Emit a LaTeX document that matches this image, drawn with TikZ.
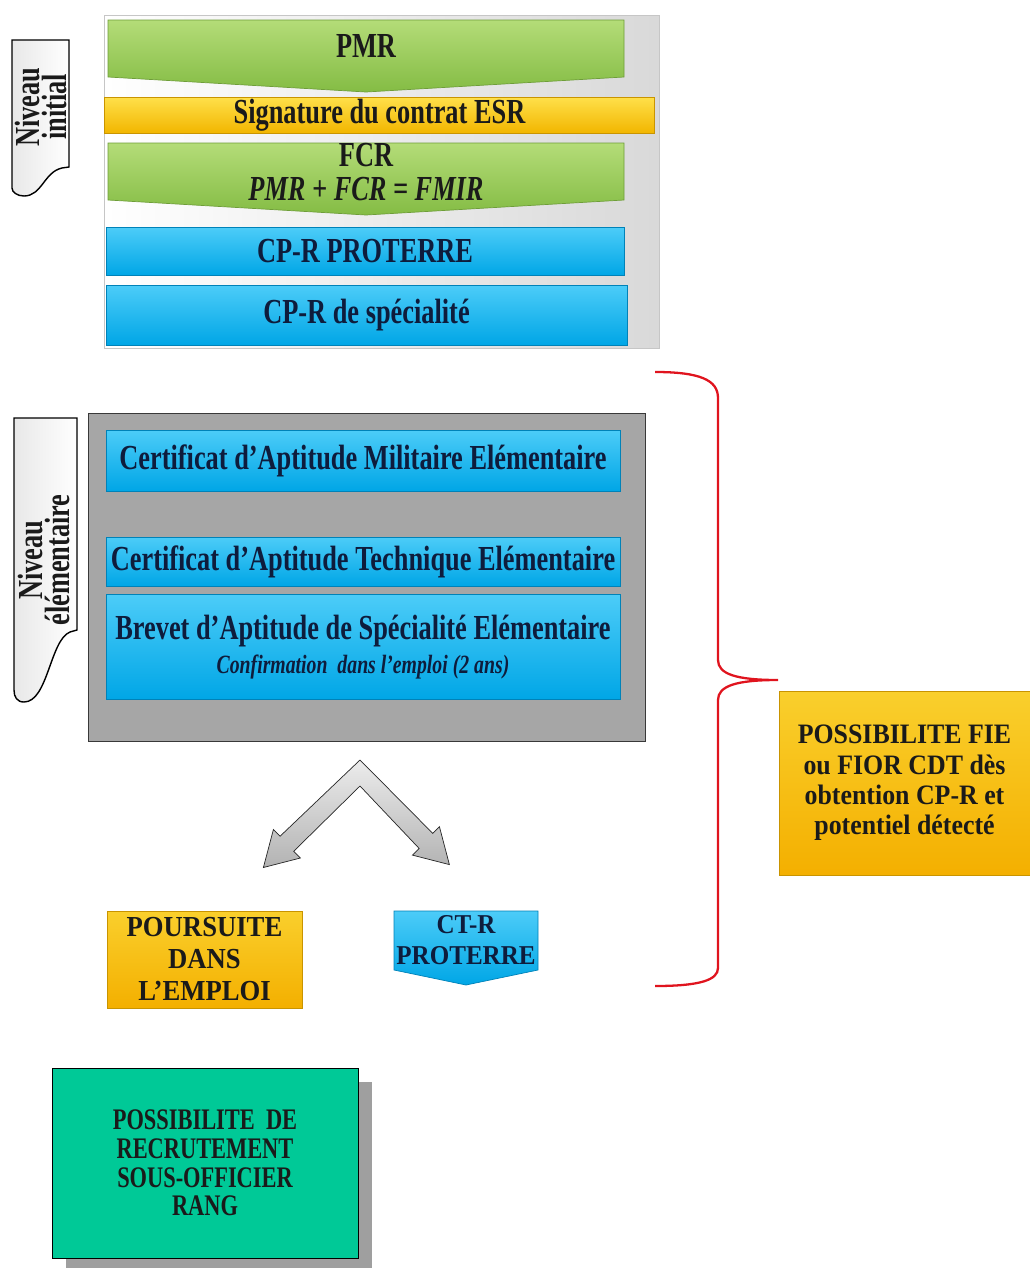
\documentclass[tikz,border=0pt]{standalone}
\usepackage{fontspec}
\setmainfont{Liberation Serif}
\newfontfamily\condfont[FakeStretch=0.75]{Liberation Serif}
\newfontfamily\wideCond[FakeStretch=0.92]{Liberation Serif}
\usepackage{tikz}
\usetikzlibrary{shapes,arrows.meta,positioning,shadows,calc}
\definecolor{greenTop}{HTML}{B4DC78}
\definecolor{greenBot}{HTML}{84BC44}
\definecolor{greenDark}{HTML}{6E9E38}
\definecolor{goldTop}{HTML}{FFE04A}
\definecolor{goldBot}{HTML}{F2B600}
\definecolor{goldDark}{HTML}{C99400}
\definecolor{blueTop}{HTML}{4CCCF8}
\definecolor{blueBot}{HTML}{00A6E6}
\definecolor{blueDark}{HTML}{0082B8}
\definecolor{panelGray}{HTML}{A6A6A6}
\definecolor{tealBox}{HTML}{00C997}
\definecolor{braceRed}{HTML}{E0141E}
\definecolor{inkNavy}{HTML}{0E1C3C}
\definecolor{inkDark}{HTML}{1A1A1A}
\newcommand{\bigLbl}{\condfont\bfseries\fontsize{20}{22}\selectfont}

\begin{document}
\begin{tikzpicture}[x=0.02cm, y=-0.02cm,
      panelTop/.style={rectangle, draw=gray!45, left color=white, right color=gray!30, minimum width=11.1cm, minimum height=6.66cm},
      panelMid/.style={rectangle, draw=gray!45!black, fill=panelGray, minimum width=11.14cm, minimum height=6.56cm},
      chevGreen/.style={draw=greenDark, top color=greenTop, bottom color=greenBot},
      chevBlue/.style={draw=blueDark, top color=blueTop, bottom color=blueBot},
      lbl/.style={inner sep=0pt, align=center, font=\bigLbl, text=inkDark},
      barGold/.style={rectangle, draw=goldDark, top color=goldTop, bottom color=goldBot, inner sep=0pt, align=center, font=\bigLbl, text=inkDark},
      boxGold/.style={rectangle, draw=goldDark, top color=goldTop!60!goldBot, bottom color=goldBot!88!orange, inner sep=0pt, align=center, text=inkDark},
      boxBlue/.style={rectangle, draw=blueDark, top color=blueTop, bottom color=blueBot, inner sep=0pt, align=center, font=\bigLbl, text=inkNavy},
      tabShape/.style={draw=black, thick, left color=gray!18, right color=white},
      tabText/.style={rotate=90, align=center, font=\condfont\bfseries\fontsize{20}{15}\selectfont, text=inkDark},
      bigArrow/.style={draw=gray!30!black, top color=gray!15, bottom color=gray!60, line join=miter},
      brace/.style={draw=braceRed, line width=1.3pt}
    ]
      \useasboundingbox (0,0) rectangle (1030,1268);

      % niveau initial
      \node[panelTop] (topPanel) at (381.5,181.5) {};
      \path[chevGreen] (108,20) -- (624,20) -- (624,77) -- (366,92) -- (108,77) -- cycle;
      \node[lbl] (pmr) at (366,46) {PMR};
      \node[barGold, minimum width=10.99cm, minimum height=0.72cm] (esr) at (379.5,115) {Signature du contrat ESR};
      \path[chevGreen] (108,143) -- (624,143) -- (624,200) -- (366,215) -- (108,200) -- cycle;
      \node[lbl] (fcr) at (366,172) {FCR\\[-3pt]\itshape PMR + FCR = FMIR};
      \node[boxBlue, minimum width=10.36cm, minimum height=0.96cm] (cprPro) at (365,251.5) {CP-R PROTERRE};
      \node[boxBlue, minimum width=10.42cm, minimum height=1.2cm] (cprSpe) at (366.5,315) {CP-R de spécialité};

      \path[tabShape] (12,40) -- (69,40) -- (69,167) -- (62,168)
        .. controls (44,172) and (42,196) .. (24,196)
        .. controls (17,196) and (12,192) .. (12,188) -- cycle;
      \node[tabText] (tabInit) at (41,107) {Niveau\\initial};

      % niveau elementaire
      \node[panelMid] (grayPanel) at (366.5,577) {};
      \node[boxBlue, minimum width=10.28cm, minimum height=1.22cm] (came) at (363,460.5) {Certificat d’Aptitude Militaire Elémentaire};
      \node[boxBlue, minimum width=10.28cm, minimum height=0.98cm] (cate) at (363,561.5) {Certificat d’Aptitude Technique Elémentaire};
      \node[boxBlue, minimum width=10.28cm, minimum height=2.1cm] (base) at (363,647) {Brevet d’Aptitude de Spécialité Elémentaire\\[-3pt]
        {\condfont\bfseries\itshape\fontsize{15}{16}\selectfont Confirmation~~dans l’emploi (2 ans)}};

      \path[tabShape] (14,418) -- (77,418) -- (77,630) -- (70,632)
        .. controls (50,640) and (48,702) .. (24,702)
        .. controls (17,702) and (14,697) .. (14,690) -- cycle;
      \node[tabText] (tabElem) at (44,560) {Niveau\\élémentaire};

      % fleche double
      \coordinate (apex) at (360,760);
      \path[bigArrow] (apex) -- ++(72.7,73.3) -- ++(6.7,-6.7) -- ++(10,38) -- ++(-37,-9.5)
        -- ++(6.7,-6.7) -- (360,786) -- ++(-66.3,65.3) -- ++(6.7,6.7) -- ++(-37,9.5)
        -- ++(10,-38) -- ++(6.7,6.7) -- cycle;

      % suites
      \node[boxGold, minimum width=3.9cm, minimum height=1.94cm,
        font=\wideCond\bfseries\fontsize{16.5}{18.2}\selectfont] (poursuite) at (204.5,959.5) {POURSUITE\\DANS\\L’EMPLOI};
      \path[chevBlue] (394,911) -- (538,911) -- (538,970) -- (466,985) -- (394,970) -- cycle;
      \node[lbl, text=inkNavy, font=\wideCond\bfseries\fontsize{15.5}{17.5}\selectfont] (ctr) at (466,940) {CT-R\\PROTERRE};

      \node[boxGold, minimum width=5.02cm, minimum height=3.68cm,
        font=\wideCond\bfseries\fontsize{16}{17.2}\selectfont] (fie) at (904.5,783) {POSSIBILITE FIE\\ou FIOR CDT dès\\obtention CP-R et\\potentiel détecté};

      \node[rectangle, draw=black, fill=tealBox, minimum width=6.12cm, minimum height=3.8cm, align=center,
        drop shadow={shadow xshift=0.28cm, shadow yshift=-0.28cm, fill=gray!75, opacity=1},
        font=\condfont\bfseries\fontsize{17}{16.4}\selectfont, text=inkDark] (recrut) at (205,1163) {POSSIBILITE~~DE\\RECRUTEMENT\\SOUS-OFFICIER\\RANG};

      % accolade
      \draw[brace] (655,372) .. controls (700,372) and (718,380) .. (718,398) -- (718,660)
        .. controls (718,674) and (736,680) .. (778,680)
        .. controls (736,680) and (718,686) .. (718,700) -- (718,968)
        .. controls (718,980) and (700,986) .. (655,986);
    \end{tikzpicture}
\end{document}
